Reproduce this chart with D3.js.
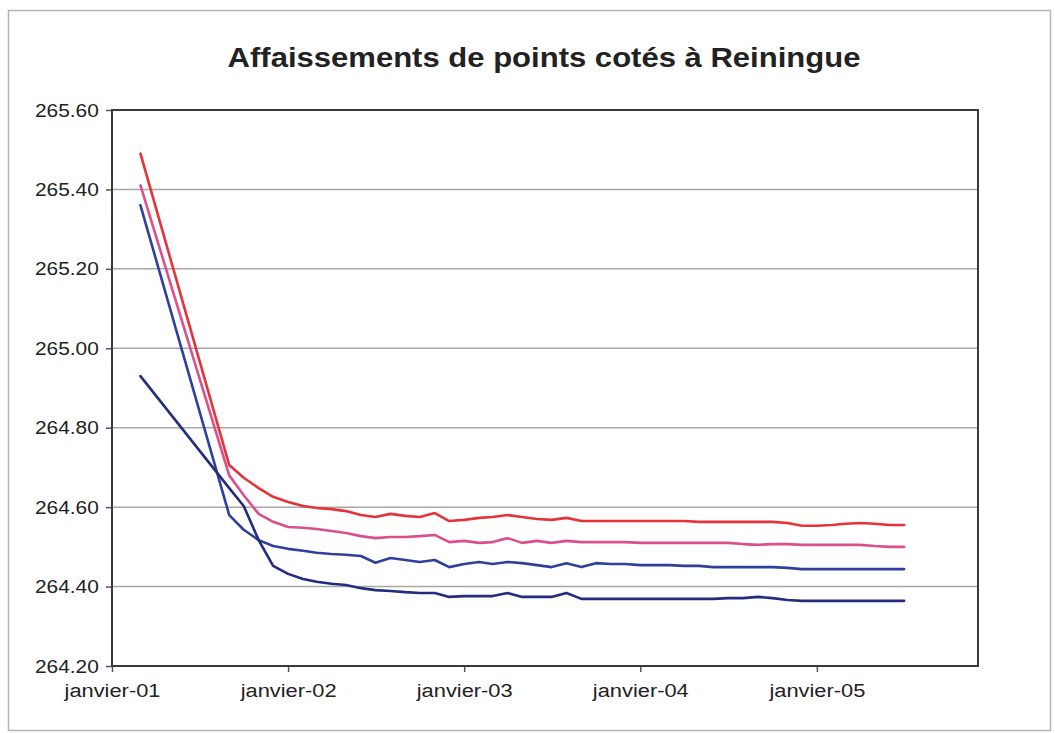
<!DOCTYPE html>
<html>
<head>
<meta charset="utf-8">
<script src="https://cdn.jsdelivr.net/npm/d3@7"></script>
<style>
  html, body { margin: 0; padding: 0; background: #ffffff; }
  #chart { width: 1055px; height: 733px; }
  text { font-family: "Liberation Sans", Arial, sans-serif; fill: #222222; }
</style>
</head>
<body>
<div id="chart"></div>
<script>
const chartTitle = "Affaissements de points cotés à Reiningue"

const months = [
  "2001-03", "2001-09", "2001-10", "2001-11", "2001-12",
  "2002-01", "2002-02", "2002-03", "2002-04", "2002-05", "2002-06",
  "2002-07", "2002-08", "2002-09", "2002-10", "2002-11", "2002-12",
  "2003-01", "2003-02", "2003-03", "2003-04", "2003-05", "2003-06",
  "2003-07", "2003-08", "2003-09", "2003-10", "2003-11", "2003-12",
  "2004-01", "2004-02", "2004-03", "2004-04", "2004-05", "2004-06",
  "2004-07", "2004-08", "2004-09", "2004-10", "2004-11", "2004-12",
  "2005-01", "2005-02", "2005-03", "2005-04", "2005-05", "2005-06",
  "2005-07"
]

const pointRed = [
  265.49, 264.706, 264.674, 264.648, 264.626,
  264.613, 264.603, 264.598, 264.595, 264.590, 264.580,
  264.575, 264.583, 264.578, 264.575, 264.585, 264.565,
  264.568, 264.573, 264.575, 264.580, 264.575, 264.570,
  264.568, 264.573, 264.565, 264.565, 264.565, 264.565,
  264.565, 264.565, 264.565, 264.565, 264.563, 264.563,
  264.563, 264.563, 264.563, 264.563, 264.560, 264.553,
  264.553, 264.555, 264.558, 264.560, 264.558, 264.555,
  264.555
]

const pointPink = [
  265.41, 264.680, 264.630, 264.583, 264.563,
  264.550, 264.548, 264.545, 264.540, 264.535, 264.527,
  264.522, 264.525, 264.525, 264.527, 264.530, 264.512,
  264.515, 264.510, 264.512, 264.522, 264.510, 264.515,
  264.510, 264.515, 264.512, 264.512, 264.512, 264.512,
  264.510, 264.510, 264.510, 264.510, 264.510, 264.510,
  264.510, 264.507, 264.505, 264.507, 264.507, 264.505,
  264.505, 264.505, 264.505, 264.505, 264.502, 264.500,
  264.500
]

const pointBlue = [
  265.36, 264.580, 264.543, 264.517, 264.502,
  264.495, 264.490, 264.485, 264.482, 264.480, 264.477,
  264.460, 264.472, 264.467, 264.462, 264.467, 264.449,
  264.457, 264.462, 264.457, 264.462, 264.459, 264.454,
  264.449, 264.459, 264.449, 264.459, 264.457, 264.457,
  264.454, 264.454, 264.454, 264.452, 264.452, 264.449,
  264.449, 264.449, 264.449, 264.449, 264.447, 264.444,
  264.444, 264.444, 264.444, 264.444, 264.444, 264.444,
  264.444
]

const pointNavy = [
  264.93, 264.648, 264.603, 264.517, 264.452,
  264.432, 264.419, 264.412, 264.407, 264.404, 264.396,
  264.391, 264.389, 264.386, 264.384, 264.384, 264.374,
  264.376, 264.376, 264.376, 264.384, 264.374, 264.374,
  264.374, 264.384, 264.369, 264.369, 264.369, 264.369,
  264.369, 264.369, 264.369, 264.369, 264.369, 264.369,
  264.371, 264.371, 264.374, 264.371, 264.366, 264.364,
  264.364, 264.364, 264.364, 264.364, 264.364, 264.364,
  264.364
]

const yTicks = [264.2, 264.4, 264.6, 264.8, 265.0, 265.2, 265.4, 265.6]
const xTicks = ["2001-01", "2002-01", "2003-01", "2004-01", "2005-01"]
const xTickLabels = ["janvier-01", "janvier-02", "janvier-03", "janvier-04", "janvier-05"]

const seriesColors = ["#e5333a", "#dc4f8c", "#2f409c", "#222d7e"];

(function () {
  const width = 1055
  const height = 733
  const plot = { left: 112, top: 110, right: 978, bottom: 666 }

  const parseMonth = d3.timeParse("%Y-%m")
  const dates = months.map(parseMonth)

  const series = [pointRed, pointPink, pointBlue, pointNavy].map(function (values, i) {
    return {
      color: seriesColors[i],
      points: values.map(function (v, j) { return { date: dates[j], value: v } })
    }
  })

  const x = d3.scaleTime()
    .domain([parseMonth("2001-01"), parseMonth("2005-12")])
    .range([plot.left, plot.right])

  const y = d3.scaleLinear()
    .domain([264.2, 265.6])
    .range([plot.bottom, plot.top])

  const svg = d3.select('#chart').append('svg')
    .attr('width', width)
    .attr('height', height)
    .attr('viewBox', [0, 0, width, height])

  // outer chart frame
  svg.append('rect')
    .attr('x', 8.5)
    .attr('y', 10.5)
    .attr('width', 1042)
    .attr('height', 720)
    .attr('fill', 'none')
    .attr('stroke', '#b4b4b4')
    .attr('stroke-width', 1.5)

  // the source picture is a little stretched sideways, so the text is too
  svg.append('text')
    .attr('transform', 'translate(544,67) scale(1.15,1)')
    .attr('text-anchor', 'middle')
    .attr('font-size', 27)
    .attr('font-weight', 'bold')
    .text(chartTitle)

  // gridlines
  svg.append('g')
    .selectAll('line')
    .data(yTicks.slice(1, -1))
    .join('line')
      .attr('x1', plot.left)
      .attr('x2', plot.right)
      .attr('y1', function (d) { return y(d) })
      .attr('y2', function (d) { return y(d) })
      .attr('stroke', '#a8a8a8')
      .attr('stroke-width', 1.5)

  const yAxis = svg.append('g')
    .attr('transform', `translate(${plot.left},0)`)
    .call(d3.axisLeft(y).tickValues(yTicks).tickFormat(d3.format('.2f')).tickSize(6).tickPadding(6))
  yAxis.select('.domain').remove()
  yAxis.selectAll('.tick line').attr('stroke', '#555555').attr('stroke-width', 1.5)
  yAxis.selectAll('.tick text')
    .attr('font-size', 19)
    .attr('font-family', '"Liberation Sans", Arial, sans-serif')
    .attr('fill', '#2a2a2a')
    .attr('transform', 'scale(1.1,1)')

  const xAxis = svg.append('g')
    .attr('transform', `translate(0,${plot.bottom})`)
    .call(d3.axisBottom(x)
      .tickValues(xTicks.map(parseMonth))
      .tickFormat(function (d, i) { return xTickLabels[i] })
      .tickSize(6)
      .tickPadding(12))
  xAxis.select('.domain').remove()
  xAxis.selectAll('.tick line').attr('stroke', '#555555').attr('stroke-width', 1.5)
  xAxis.selectAll('.tick text')
    .attr('font-size', 19)
    .attr('font-family', '"Liberation Sans", Arial, sans-serif')
    .attr('fill', '#2a2a2a')
    .attr('transform', 'scale(1.15,1)')

  // plot area border
  svg.append('rect')
    .attr('x', plot.left)
    .attr('y', plot.top)
    .attr('width', plot.right - plot.left)
    .attr('height', plot.bottom - plot.top)
    .attr('fill', 'none')
    .attr('stroke', '#3a3a3a')
    .attr('stroke-width', 2)

  const line = d3.line()
    .x(function (d) { return x(d.date) })
    .y(function (d) { return y(d.value) })

  svg.append('g')
    .selectAll('path')
    .data(series)
    .join('path')
      .attr('d', function (d) { return line(d.points) })
      .attr('fill', 'none')
      .attr('stroke', function (d) { return d.color })
      .attr('stroke-width', 2.6)
      .attr('stroke-linejoin', 'round')
      .attr('stroke-linecap', 'round')
})();
</script>
</body>
</html>
